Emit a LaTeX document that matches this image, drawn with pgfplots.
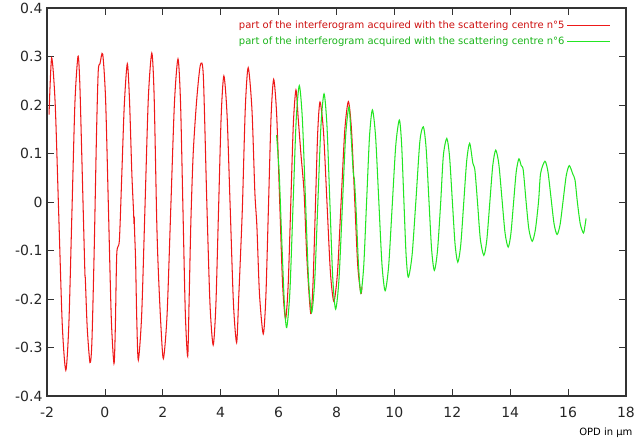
\documentclass[border=0pt]{standalone}
\usepackage{fontspec}
\setmainfont{DejaVu Sans}
\usepackage{pgfplots}
\pgfplotsset{compat=1.18}
\definecolor{redline}{RGB}{238,25,25}
\definecolor{greenline}{RGB}{35,230,35}
\definecolor{redtext}{RGB}{205,15,15}
\definecolor{greentext}{RGB}{25,180,25}
\begin{document}
\begin{tikzpicture}
\useasboundingbox (0,0) rectangle (638pt,441pt);
\begin{axis}[
  at={(47pt,45pt)}, anchor=south west,
  scale only axis, width=579pt, height=388pt,
  xmin=-2, xmax=18, ymin=-0.4, ymax=0.4,
  xtick={-2,0,2,4,6,8,10,12,14,16,18},
  ytick={-0.4,-0.3,-0.2,-0.1,0,0.1,0.2,0.3,0.4},
  tick align=inside, major tick length=7pt,
  tick style={black!80, line width=0.8pt},
  axis line style={black!80, line width=1.1pt},
  ticklabel style={font=\fontsize{14}{16}\selectfont, text=black!85},
  xticklabel style={yshift=-8pt},
  yticklabel style={xshift=-1pt},
  /pgf/number format/assume math mode=true,
  yticklabel style={/pgf/number format/fixed, /pgf/number format/precision=1},
  xlabel={OPD in µm},
  xlabel style={at={(axis description cs:1,0)}, anchor=north east, xshift=10pt, yshift=-28pt, font=\fontsize{10}{12}\selectfont},
  legend style={draw=white, fill=none, at={(axis description cs:1,1)}, anchor=north east, xshift=-12pt, yshift=-9pt, font=\fontsize{10}{12}\selectfont, row sep=3pt, /tikz/every even column/.append style={column sep=2pt}},
  legend cell align=right, legend plot pos=right,
]
\addplot[redline, line width=1.05pt, smooth, tension=0.45,
  legend image code/.code={\draw[redline, line width=1.2pt] (0pt,0pt) -- (43pt,0pt);}] coordinates {
(-1.93,0.18) (-1.84,0.297) (-1.7175,0.203) (-1.595,-0.025) (-1.4725,-0.253) (-1.35,-0.347)
(-1.245,-0.252) (-1.14,-0.024) (-1.035,0.205) (-0.93,0.30)
(-0.87,0.25) (-0.80,0.10) (-0.73,-0.06) (-0.69,-0.148) (-0.675,-0.16) (-0.61,-0.26) (-0.515,-0.331)
(-0.45,-0.29) (-0.37,-0.10) (-0.29,0.14) (-0.23,0.27) (-0.17,0.285) (-0.076,0.305)
(0.024,0.2115) (0.1225,-0.014) (0.221,-0.24) (0.314,-0.333)
(0.36,-0.26) (0.41,-0.107) (0.50,-0.079) (0.58,0.05) (0.67,0.20) (0.774,0.285)
(0.85,0.21) (0.93,0.06) (0.99,-0.02) (1.005,-0.045) (1.012,-0.03) (1.025,-0.06) (1.06,-0.12) (1.10,-0.24) (1.154,-0.326)
(1.27,-0.233) (1.385,-0.01) (1.50,0.214) (1.62,0.307)
(1.70,0.22) (1.79,-0.038) (1.845,-0.141) (1.93,-0.25) (2.02,-0.323)
(2.1475,-0.2325) (2.275,-0.014) (2.4025,0.2045) (2.525,0.295)
(2.6125,0.205) (2.695,-0.0115) (2.7775,-0.228) (2.86,-0.318)
(2.91,-0.2) (2.97,-0.04) (3.05,0.10) (3.17,0.21) (3.296,0.282)
(3.40,0.26) (3.52,0.0) (3.63,-0.21) (3.74,-0.295)
(3.8325,-0.2135) (3.925,-0.0175) (4.0175,0.1785) (4.11,0.26)
(4.22,0.179) (4.33,-0.015) (4.44,-0.209) (4.55,-0.29)
(4.62,-0.2) (4.67,-0.13) (4.75,-0.01) (4.85,0.194) (4.95,0.277)
(5.08,0.19) (5.18,0.02) (5.25,-0.05) (5.34,-0.19) (5.47,-0.272)
(5.56,-0.195) (5.65,-0.0095) (5.74,0.176) (5.83,0.253)
(5.9325,0.181) (6.035,0.006) (6.1375,-0.169) (6.24,-0.241)
(6.33,-0.172) (6.42,-0.005) (6.51,0.162) (6.60,0.231)
(6.68,0.17) (6.77,0.10) (6.88,0.02) (6.98,-0.12) (7.11,-0.230)
(7.19,-0.166) (7.27,-0.012) (7.35,0.142) (7.43,0.206)
(7.55,0.146) (7.67,0.0) (7.79,-0.145) (7.91,-0.205)
(8.035,-0.1446) (8.16,0.001) (8.285,0.147) (8.41,0.207)
(8.5175,0.149) (8.625,0.0095) (8.7325,-0.13) (8.84,-0.188)
(8.88,-0.175)
};
\addlegendentry{\textcolor{redtext}{part of the interferogram acquired with the scattering centre n°5}}
\addplot[greenline, line width=1.05pt, smooth, tension=0.45,
  legend image code/.code={\draw[greenline, line width=1.2pt] (0pt,0pt) -- (43pt,0pt);}] coordinates {
(5.93,0.138) (6.02,0.06) (6.11,-0.08) (6.2,-0.21) (6.28,-0.259)
(6.389,-0.186) (6.4975,-0.0095) (6.606,0.167) (6.715,0.24)
(6.821,0.171) (6.9275,0.006) (7.034,-0.159) (7.14,-0.228)
(7.2475,-0.162) (7.355,-0.0025) (7.4625,0.157) (7.57,0.223)
(7.67,0.158) (7.77,0.001) (7.87,-0.156) (7.97,-0.221)
(8.085,-0.16) (8.2,-0.0125) (8.315,0.135) (8.43,0.196)
(8.50,0.14) (8.58,0.06) (8.62,0.045) (8.68,-0.02) (8.76,-0.13) (8.84,-0.188)
(8.94,-0.1326) (9.04,0.001) (9.14,0.1346) (9.24,0.19)
(9.35,0.135) (9.46,0.0035) (9.57,-0.128) (9.68,-0.183)
(9.8025,-0.131) (9.925,-0.007) (10.0475,0.117) (10.17,0.169)
(10.2475,0.1215) (10.325,0.007) (10.4025,-0.1075) (10.48,-0.155)
(10.61,-0.11) (10.74,0.0) (10.88,0.125) (11.0,0.155)
(11.095,0.1116) (11.19,0.007) (11.285,-0.0976) (11.38,-0.141)
(11.4875,-0.101) (11.595,-0.005) (11.69,0.095) (11.81,0.131)
(11.905,0.0936) (12.0,0.0035) (12.095,-0.0866) (12.19,-0.124)
(12.2925,-0.088) (12.395,-0.0015) (12.4975,0.085) (12.6,0.121)
(12.71,0.08) (12.78,0.066) (12.87,0.0) (12.9675,-0.076) (13.09,-0.11)
(13.1925,-0.078) (13.295,-0.0015) (13.3975,0.075) (13.5,0.107)
(13.6075,0.078) (13.715,0.007) (13.8225,-0.064) (13.93,-0.093)
(14.0225,-0.066) (14.115,-0.002) (14.2075,0.062) (14.3,0.089)
(14.38,0.075) (14.45,0.066) (14.55,0.0) (14.645,-0.056) (14.76,-0.081)
(14.87,-0.057) (14.98,0.0015) (15.05,0.059) (15.2,0.084)
(15.305,0.062) (15.41,0.0085) (15.515,-0.045) (15.62,-0.067)
(15.725,-0.046) (15.83,0.004) (15.935,0.054) (16.04,0.075)
(16.16,0.058) (16.24,0.045) (16.32,0.0) (16.42,-0.045) (16.53,-0.064)
(16.58,-0.05) (16.62,-0.034)
};
\addlegendentry{\textcolor{greentext}{part of the interferogram acquired with the scattering centre n°6}}
\end{axis}
\end{tikzpicture}
\end{document}
